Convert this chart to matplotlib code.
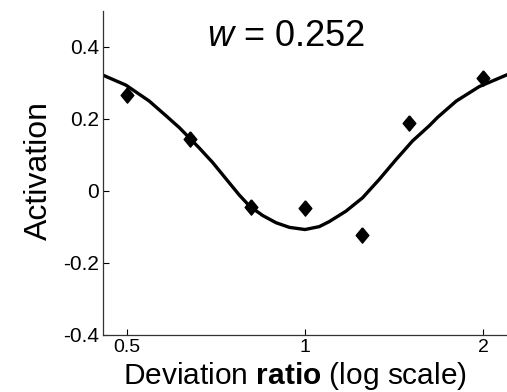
#!/usr/bin/env python3

import matplotlib

matplotlib.use("Agg")
import matplotlib.pyplot as plt

# measured responses (diamonds)
ratio = [0.5, 0.64, 0.81, 1.0, 1.25, 1.5, 2.0]
activation = [0.267, 0.144, -0.044, -0.046, -0.123, 0.19, 0.313]

# fitted curve
fit_ratio = [0.455, 0.498, 0.545, 0.582, 0.613, 0.637, 0.662, 0.698, 0.735, 0.774,
             0.807, 0.848, 0.893, 0.941, 1.0, 1.057, 1.099, 1.173, 1.251, 1.335,
             1.425, 1.520, 1.622, 1.677, 1.803, 1.971, 2.19]
fit_activation = [0.322, 0.294, 0.250, 0.209, 0.176, 0.148, 0.120, 0.079, 0.034, -0.011,
                  -0.043, -0.068, -0.088, -0.101, -0.107, -0.099, -0.085, -0.056, -0.019, 0.032,
                  0.087, 0.139, 0.181, 0.205, 0.250, 0.290, 0.322]

x_ticks = [0.5, 1, 2]
x_tick_labels = ["0.5", "1", "2"]
y_ticks = [-0.4, -0.2, 0, 0.2, 0.4]
y_tick_labels = ["-0.4", "-0.2", "0", "0.2", "0.4"]
w_value = 0.252

plt.rcParams["font.family"] = ["Liberation Sans", "DejaVu Sans"]
plt.rcParams["mathtext.fontset"] = "custom"
plt.rcParams["mathtext.rm"] = "Liberation Sans"
plt.rcParams["mathtext.it"] = "Liberation Sans:italic"
plt.rcParams["mathtext.bf"] = "Liberation Sans:bold"

fig = plt.figure(figsize=(5.07, 3.92), dpi=100)
ax = fig.add_axes([103 / 507, 57 / 392, 404 / 507, 324 / 392])

ax.plot(fit_ratio, fit_activation, color="black", lw=2.4, solid_joinstyle="round")
diamond = [(0, 1), (0.83, 0), (0, -1), (-0.83, 0), (0, 1)]
ax.plot(ratio, activation, linestyle="none", marker=diamond, ms=11, color="black", zorder=3)

ax.set_xscale("log")
ax.set_xlim(2 ** -1.135, 2 ** 1.135)
ax.set_ylim(-0.4, 0.5)
ax.set_xticks(x_ticks)
ax.set_xticklabels(x_tick_labels)
ax.minorticks_off()
ax.set_yticks(y_ticks)
ax.set_yticklabels(y_tick_labels)

ax.tick_params(axis="both", direction="in", length=4, width=0.8, colors="black")
ax.tick_params(axis="x", labelsize=14, pad=3)
ax.tick_params(axis="y", labelsize=15, pad=3)

for side in ("top", "right"):
    ax.spines[side].set_visible(False)
for side in ("left", "bottom"):
    ax.spines[side].set_linewidth(0.9)
    ax.spines[side].set_color("#333333")

ax.set_ylabel("Activation", fontsize=23, va="baseline")
ax.yaxis.set_label_coords(-0.139, 0.509)
ax.set_xlabel(r"Deviation $\mathbf{ratio}$ (log scale)", fontsize=21.5, va="baseline")
ax.xaxis.set_label_coords(0.474, -0.151)

ax.text(0.453, 0.892, rf"$w$ = {w_value}", transform=ax.transAxes,
        fontsize=26, ha="center", va="baseline")

fig.savefig("out.png", dpi=100)
